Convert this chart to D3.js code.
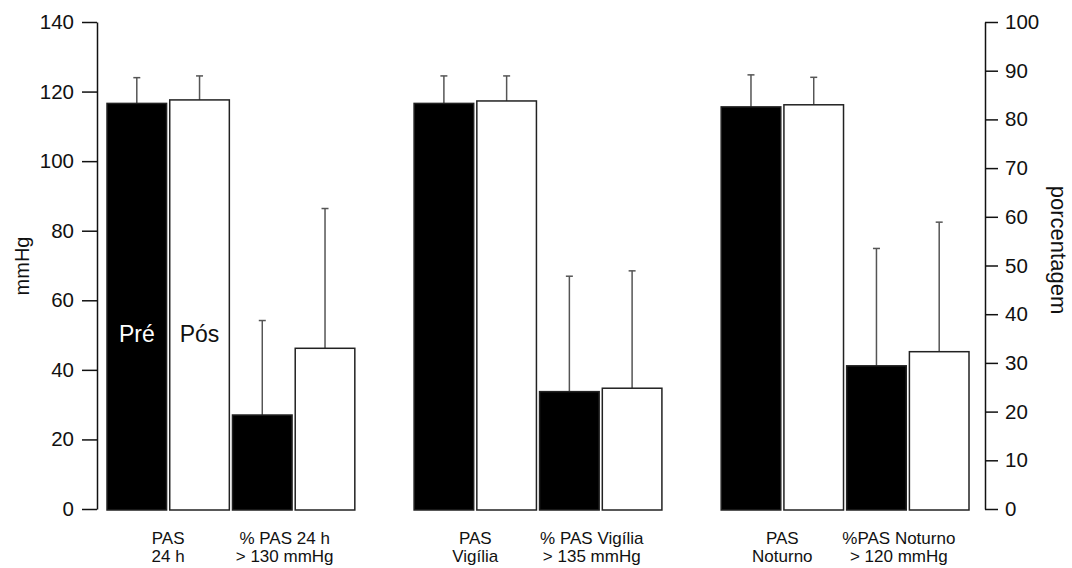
<!DOCTYPE html>
<html>
<head>
<meta charset="utf-8">
<script src="https://cdn.jsdelivr.net/npm/d3@7"></script>
<style>
  html, body { margin: 0; padding: 0; background: #fff; }
  svg { display: block; font-family: "Liberation Sans", Arial, sans-serif; }
</style>
</head>
<body>
<svg id="chart" width="1072" height="568"></svg>
<script>
// ---- data ----
const groups = ["PAS 24 h", "PAS Vigília", "PAS Noturno"];
const pasPre = [116.6, 116.6, 115.6];
const pasPreSD = [7.4, 7.9, 9.2];
const pasPos = [117.6, 117.3, 116.2];
const pasPosSD = [6.9, 7.2, 7.9];
const pctPre = [19.3, 24.1, 29.4];
const pctPreSD = [19.4, 23.7, 24.1];
const pctPos = [33.0, 24.8, 32.3];
const pctPosSD = [28.7, 24.1, 26.6];
const labelPasLine1 = ["PAS", "PAS", "PAS"];
const labelPasLine2 = ["24 h", "Vigília", "Noturno"];
const labelPctLine1 = ["% PAS 24 h", "% PAS Vigília", "%PAS Noturno"];
const labelPctLine2 = ["> 130 mmHg", "> 135 mmHg", "> 120 mmHg"];
const leftTicks = [0, 20, 40, 60, 80, 100, 120, 140];
const rightTicks = [0, 10, 20, 30, 40, 50, 60, 70, 80, 90, 100];
const seriesNames = ["Pré", "Pós"];

// ---- layout ----
const svg = d3.select("#chart");
const yTop = 22, yBase = 509;
const yL = d3.scaleLinear().domain([0, 140]).range([yBase, yTop]);
const yR = d3.scaleLinear().domain([0, 100]).range([yBase, yTop]);
const x0 = d3.scaleBand().domain(groups).range([107, 969]).paddingInner(0.193).paddingOuter(0);
const x1 = d3.scaleBand().domain([0, 1, 2, 3]).range([0, x0.bandwidth()]).paddingInner(0.05);

// build bar table
const bars = [];
groups.forEach((g, i) => {
  bars.push({g, slot: 0, v: pasPre[i], sd: pasPreSD[i], scale: yL, fill: "#000"});
  bars.push({g, slot: 1, v: pasPos[i], sd: pasPosSD[i], scale: yL, fill: "#fff"});
  bars.push({g, slot: 2, v: pctPre[i], sd: pctPreSD[i], scale: yR, fill: "#000"});
  bars.push({g, slot: 3, v: pctPos[i], sd: pctPosSD[i], scale: yR, fill: "#fff"});
});

// error bars
const eb = svg.append("g");
bars.forEach(d => {
  const cx = x0(d.g) + x1(d.slot) + x1.bandwidth() / 2;
  eb.append("line")
    .attr("x1", cx).attr("x2", cx)
    .attr("y1", d.scale(d.v)).attr("y2", d.scale(d.v + d.sd))
    .attr("stroke", "#555").attr("stroke-width", 1.5);
  eb.append("line")
    .attr("x1", cx - 3.5).attr("x2", cx + 3.5)
    .attr("y1", d.scale(d.v + d.sd)).attr("y2", d.scale(d.v + d.sd))
    .attr("stroke", "#555").attr("stroke-width", 1.5);
});

svg.append("g").selectAll("rect").data(bars).join("rect")
  .attr("x", d => x0(d.g) + x1(d.slot))
  .attr("width", x1.bandwidth())
  .attr("y", d => d.scale(d.v))
  .attr("height", d => yBase + 1 - d.scale(d.v))
  .attr("fill", d => d.fill)
  .attr("stroke", "#222")
  .attr("stroke-width", 1.5);

// Pré / Pós labels inside first group bars
svg.append("text")
  .attr("x", x0(groups[0]) + x1(0) + x1.bandwidth() / 2)
  .attr("y", 342)
  .attr("text-anchor", "middle").attr("font-size", 23).attr("fill", "#fff")
  .text(seriesNames[0]);
svg.append("text")
  .attr("x", x0(groups[0]) + x1(1) + x1.bandwidth() / 2)
  .attr("y", 342)
  .attr("text-anchor", "middle").attr("font-size", 23).attr("fill", "#111")
  .text(seriesNames[1]);

// axes
const axL = svg.append("g").attr("transform", "translate(97,0)")
  .call(d3.axisLeft(yL).tickValues(leftTicks).tickSize(15).tickSizeOuter(0).tickPadding(8));
const axR = svg.append("g").attr("transform", "translate(985,0)")
  .call(d3.axisRight(yR).tickValues(rightTicks).tickSize(13).tickSizeOuter(0).tickPadding(7));
[axL, axR].forEach(ax => {
  ax.select(".domain").attr("stroke", "#111").attr("stroke-width", 1.5);
  ax.selectAll(".tick line").attr("stroke", "#111").attr("stroke-width", 1.5);
  ax.selectAll(".tick text").attr("font-size", 20.5).attr("fill", "#111")
    .attr("font-family", "'Liberation Sans', Arial, sans-serif");
});

// axis titles
svg.append("text")
  .attr("transform", "translate(29,266) rotate(-90)")
  .attr("text-anchor", "middle").attr("font-size", 20).attr("fill", "#111")
  .text("mmHg");
svg.append("text")
  .attr("transform", "translate(1051,250) rotate(90)")
  .attr("text-anchor", "middle").attr("font-size", 22).attr("fill", "#111")
  .text("porcentagem");

// category labels
const lab = svg.append("g").attr("font-size", 17).attr("fill", "#111").attr("text-anchor", "middle");
groups.forEach((g, i) => {
  const cPas = x0(g) + (x1(0) + x1(1) + x1.bandwidth()) / 2;
  const cPct = x0(g) + (x1(2) + x1(3) + x1.bandwidth()) / 2 - 9;
  lab.append("text").attr("x", cPas).attr("y", 544).text(labelPasLine1[i]);
  lab.append("text").attr("x", cPas).attr("y", 562).text(labelPasLine2[i]);
  lab.append("text").attr("x", cPct).attr("y", 544).text(labelPctLine1[i]);
  lab.append("text").attr("x", cPct).attr("y", 562).text(labelPctLine2[i]);
});
</script>
</body>
</html>
